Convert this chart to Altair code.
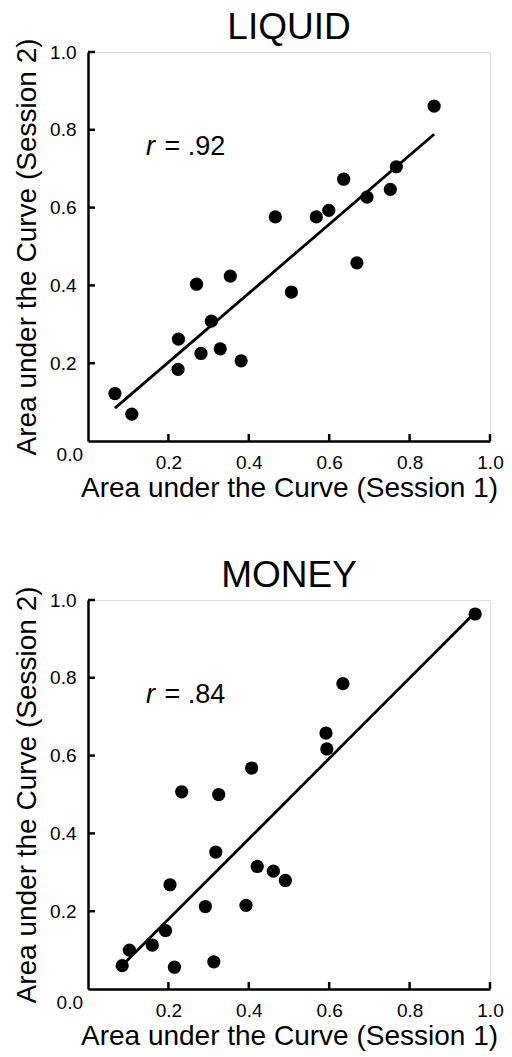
import altair as alt
import pandas as pd

FONT = "Liberation Sans"

tick_values = [0.2, 0.4, 0.6, 0.8, 1.0]

liquid_s1 = [0.861, 0.767, 0.636, 0.694, 0.752, 0.466, 0.568, 0.599, 0.669, 0.506,
             0.354, 0.270, 0.307, 0.225, 0.281, 0.329, 0.381, 0.224, 0.067, 0.109]
liquid_s2 = [0.861, 0.705, 0.673, 0.627, 0.647, 0.576, 0.576, 0.593, 0.458, 0.383,
             0.424, 0.403, 0.308, 0.262, 0.225, 0.237, 0.206, 0.184, 0.122, 0.069]

money_s1 = [0.963, 0.634, 0.592, 0.594, 0.407, 0.233, 0.325, 0.318, 0.421, 0.461,
            0.491, 0.204, 0.292, 0.393, 0.193, 0.160, 0.103, 0.085, 0.215, 0.313]
money_s2 = [0.964, 0.785, 0.658, 0.617, 0.568, 0.507, 0.500, 0.352, 0.315, 0.303,
            0.279, 0.268, 0.212, 0.215, 0.150, 0.113, 0.100, 0.060, 0.056, 0.070]

X_TITLE = "Area under the Curve (Session 1)"
Y_TITLE = "Area under the Curve (Session 2)"

W, H = 402, 389


def panel(title, s1, s2, r_value):
    df = pd.DataFrame({"s1": s1, "s2": s2})
    xs = alt.Scale(domain=[0, 1], nice=False, zero=True)
    ys = alt.Scale(domain=[0, 1], nice=False, zero=True)
    common = dict(values=tick_values, format=".1f", ticks=False, grid=False,
                  labelFlush=False, labelOverlap=False,
                  domainWidth=2.5, domainColor="black", labelFontSize=19,
                  titleFontSize=28, labelColor="black", titleColor="black",
                  titleFontWeight="normal", labelFont=FONT, titleFont=FONT)
    xaxis = alt.Axis(title=X_TITLE, labelPadding=12, titlePadding=2, **common)
    yaxis = alt.Axis(title=Y_TITLE, labelPadding=12, titlePadding=8, **common)

    base = alt.Chart(df)
    pts = base.mark_circle(size=175, color="black", opacity=1).encode(
        x=alt.X("s1:Q", scale=xs, axis=xaxis),
        y=alt.Y("s2:Q", scale=ys, axis=yaxis),
    )
    fit = base.transform_regression("s1", "s2").mark_line(
        color="black", strokeWidth=2.8
    ).encode(
        x=alt.X("s1:Q", scale=xs, title=X_TITLE),
        y=alt.Y("s2:Q", scale=ys, title=Y_TITLE),
    )
    tdf = pd.DataFrame({"t": tick_values})
    yticks = alt.Chart(tdf).mark_rule(color="black", strokeWidth=2.5).encode(
        y=alt.Y("t:Q", scale=ys, title=Y_TITLE),
        x=alt.value(0), x2=alt.value(7),
    )
    xticks = alt.Chart(tdf).mark_rule(color="black", strokeWidth=2.5).encode(
        x=alt.X("t:Q", scale=xs, title=X_TITLE),
        y=alt.value(H), y2=alt.value(H - 7),
    )
    zero = alt.Chart(pd.DataFrame({"x": [0.0], "y": [0.0], "lab": ["0.0"]})).mark_text(
        align="right", baseline="middle", dx=-5, dy=14, fontSize=19, font=FONT,
        color="black"
    ).encode(
        x=alt.X("x:Q", scale=xs, title=X_TITLE),
        y=alt.Y("y:Q", scale=ys, title=Y_TITLE),
        text="lab:N",
    )
    ann = pd.DataFrame({"x": [0.144], "y": [0.755], "r": ["r"], "x2": [0.19],
                        "rest": ["=  " + r_value]})
    r_txt = alt.Chart(ann).mark_text(
        align="left", baseline="middle", fontSize=27, font=FONT, fontStyle="italic",
        color="black"
    ).encode(
        x=alt.X("x:Q", scale=xs, title=X_TITLE),
        y=alt.Y("y:Q", scale=ys, title=Y_TITLE),
        text="r:N",
    )
    rest_txt = alt.Chart(ann).mark_text(
        align="left", baseline="middle", fontSize=27, font=FONT, color="black"
    ).encode(
        x=alt.X("x2:Q", scale=xs, title=X_TITLE),
        y=alt.Y("y:Q", scale=ys, title=Y_TITLE),
        text="rest:N",
    )
    return alt.layer(fit, pts, yticks, xticks, zero, r_txt, rest_txt).properties(
        width=W, height=H,
        title=alt.TitleParams(title, fontSize=37, fontWeight="normal", font=FONT,
                              color="black", anchor="middle", frame="group",
                              offset=-9),
    )


top = panel("LIQUID", liquid_s1, liquid_s2, ".92")
bottom = panel("MONEY", money_s1, money_s2, ".84")

chart = alt.vconcat(top, bottom, spacing=53).configure_view(stroke=None).configure(
    padding={"left": 13, "top": 8, "right": 0, "bottom": 0}
)

chart.save("out.html", embed_options={"renderer": "svg", "actions": False})
